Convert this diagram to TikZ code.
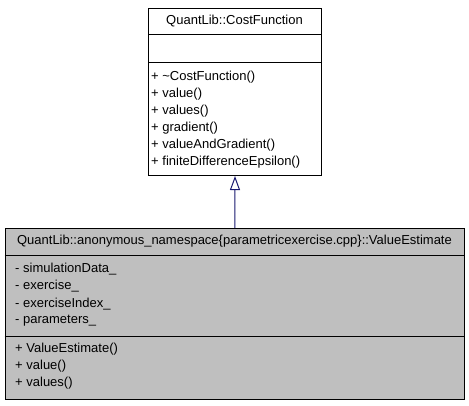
\documentclass[tikz,border=0pt]{standalone}
\usepackage{fontspec}
\setmainfont{Liberation Sans}
\usetikzlibrary{arrows.meta}
\definecolor{edgeblue}{HTML}{191970}
\definecolor{boxgray}{HTML}{BFBFBF}
\begin{document}
\begin{tikzpicture}[x=1pt,y=-1pt,
  font=\fontsize{13}{15}\selectfont,
  classbox/.style={draw=black, line width=1pt, inner sep=0pt, anchor=north west},
  member/.style={anchor=west, inner sep=0pt},
  title/.style={anchor=center, inner sep=0pt},
  sep/.style={draw=black, line width=1pt},
  inherit/.style={draw=edgeblue, line width=1pt, -{Triangle[open, length=14pt, width=10pt, line width=1pt]}}]
\useasboundingbox (0,0) rectangle (469,405);
\fill[white] (0,0) rectangle (469,405);

% Top class
\node[classbox, fill=white, minimum width=173pt, minimum height=167pt] (cf) at (148,8) {};
\node[title] (cft) at (234.5,21) {QuantLib::CostFunction};
\draw[sep] (cf.west |- 0,34) -- (cf.east |- 0,34);
\draw[sep] (cf.west |- 0,62) -- (cf.east |- 0,62);
\node[member] (m1) at (151,77) {+ \textasciitilde CostFunction()};
\node[member] (m2) at (151,94) {+ value()};
\node[member] (m3) at (151,111) {+ values()};
\node[member] (m4) at (151,128) {+ gradient()};
\node[member] (m5) at (151,145) {+ valueAndGradient()};
\node[member] (m6) at (151,162) {+ finiteDifferenceEpsilon()};

% Bottom class
\node[classbox, fill=boxgray, minimum width=459.5pt, minimum height=171pt] (ve) at (4.7,228) {};
\node[title] (vet) at (234.5,241.5) {QuantLib::anonymous\_namespace\{parametricexercise.cpp\}::ValueEstimate};
\draw[sep] (ve.west |- 0,255.5) -- (ve.east |- 0,255.5);
\draw[sep] (ve.west |- 0,336) -- (ve.east |- 0,336);
\node[member] (a1) at (15,269) {- simulationData\_};
\node[member] (a2) at (15,286.5) {- exercise\_};
\node[member] (a3) at (15,304) {- exerciseIndex\_};
\node[member] (a4) at (15,321) {- parameters\_};
\node[member] (b1) at (15,349) {+ ValueEstimate()};
\node[member] (b2) at (15,366.5) {+ value()};
\node[member] (b3) at (15,383) {+ values()};

% Inheritance
\draw[inherit] (ve.north) -- (cf.south);
\end{tikzpicture}
\end{document}
